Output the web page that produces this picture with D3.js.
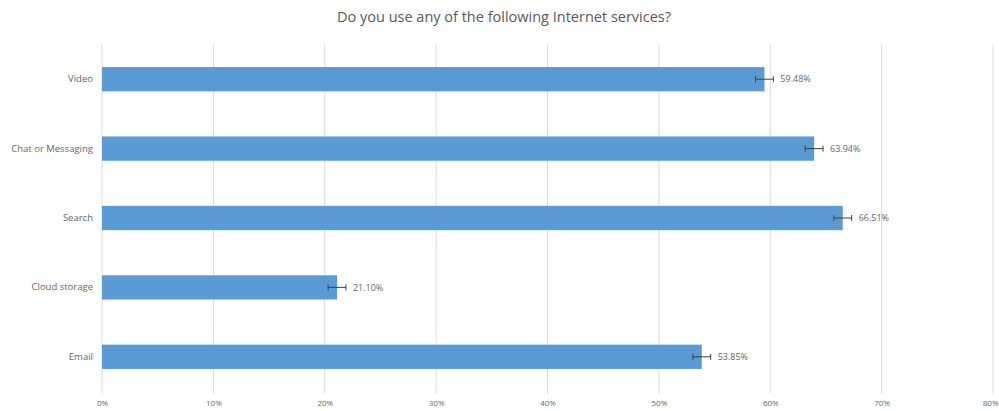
<!DOCTYPE html>
<html><head><meta charset="utf-8">
<script src="https://cdn.jsdelivr.net/npm/d3@7"></script>
<style>body{margin:0;background:#fff}svg{display:block;font-family:"Open Sans",Calibri,sans-serif}</style>
</head><body><svg id="c" width="999" height="411"></svg>
<script>
const categories = ["Video","Chat or Messaging","Search","Cloud storage","Email"];
const values = [59.48, 63.94, 66.51, 21.10, 53.85];
const errors = [0.8, 0.8, 0.8, 0.8, 0.8];
const ticks = [0,10,20,30,40,50,60,70,80];
const title = "Do you use any of the following Internet services?";

(function(){
const svg = d3.select("#c");
const mLeft = 102, mRight = 993, mTop = 44.5, mBottom = 391.5;
const x = d3.scaleLinear().domain([0,80]).range([mLeft,mRight]);
const y = d3.scaleBand().domain(categories).range([mTop,mBottom]).paddingInner(0.65).paddingOuter(0.325);

svg.append("text").attr("x",504).attr("y",22).attr("text-anchor","middle")
  .attr("font-size",14.5).attr("fill","#595959").text(title);

// gridlines
svg.append("g").selectAll("line").data(ticks).join("line")
  .attr("x1",d=>x(d)).attr("x2",d=>x(d)).attr("y1",mTop).attr("y2",mBottom+2)
  .attr("stroke","#d9d9d9").attr("stroke-width",1);

// x axis labels
const xa = svg.append("g").attr("transform",`translate(0,${mBottom})`)
  .call(d3.axisBottom(x).tickValues(ticks).tickFormat(d=>d+"%").tickSize(0).tickPadding(9));
xa.select(".domain").remove();
xa.selectAll("text").attr("font-size",8).attr("fill","#666").attr("font-family","'Open Sans',sans-serif");
xa.selectAll(".tick").filter(d=>d===80).select("text").attr("text-anchor","end").attr("x",5);

// y axis labels
const ya = svg.append("g").attr("transform",`translate(${mLeft},0)`)
  .call(d3.axisLeft(y).tickSize(0).tickPadding(9));
ya.select(".domain").remove();
ya.selectAll("text").attr("font-size",9.5).attr("fill","#666").attr("font-family","'Open Sans',sans-serif");

// bars
svg.append("g").selectAll("rect").data(categories).join("rect")
  .attr("x",x(0)).attr("y",d=>y(d)).attr("height",y.bandwidth())
  .attr("width",(d,i)=>x(values[i])-x(0)).attr("fill","#5b9bd5");

// error bars
const eb = svg.append("g").attr("stroke","#404040").attr("stroke-width",1);
categories.forEach((c,i)=>{
  const cy = y(c)+y.bandwidth()/2;
  const x1 = x(values[i]-errors[i]), x2 = x(values[i]+errors[i]);
  eb.append("line").attr("x1",x1).attr("x2",x2).attr("y1",cy).attr("y2",cy);
  eb.append("line").attr("x1",x1).attr("x2",x1).attr("y1",cy-3).attr("y2",cy+3);
  eb.append("line").attr("x1",x2).attr("x2",x2).attr("y1",cy-3).attr("y2",cy+3);
});

// value labels
svg.append("g").selectAll("text").data(categories).join("text")
  .attr("x",(d,i)=>x(values[i]+errors[i])+7).attr("y",d=>y(d)+y.bandwidth()/2).attr("dy","0.35em")
  .attr("font-size",9).attr("fill","#666").text((d,i)=>values[i].toFixed(2)+"%");
})();
</script></body></html>
